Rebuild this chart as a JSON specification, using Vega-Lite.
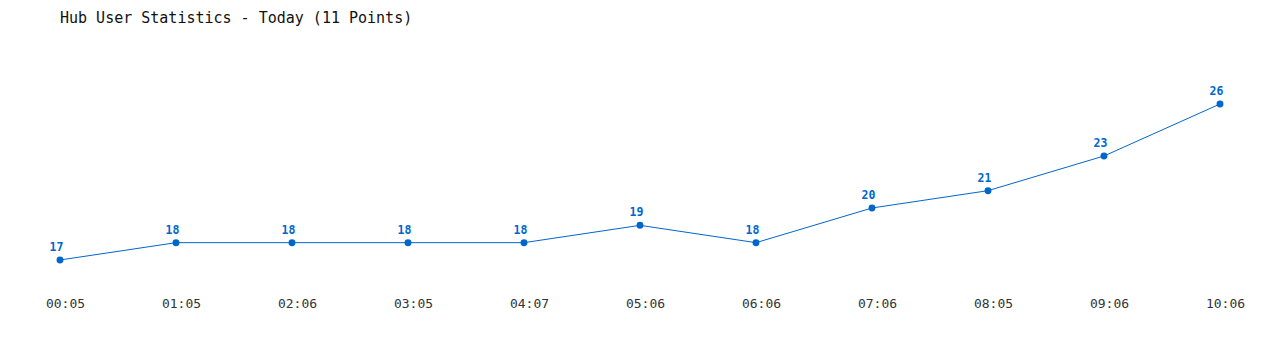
{
  "$schema": "https://vega.github.io/schema/vega-lite/v6.json",
  "autosize": "none",
  "width": 1160,
  "height": 208,
  "padding": {"left": 60, "right": 60, "top": 69.33, "bottom": 72.67},
  "background": "white",
  "title": {
    "text": "Hub User Statistics - Today (11 Points)",
    "anchor": "start",
    "frame": "group",
    "font": "DejaVu Sans Mono",
    "fontSize": 15,
    "fontWeight": "normal",
    "color": "#111111",
    "baseline": "middle",
    "offset": 36
  },
  "config": {"view": {"stroke": null}},
  "data": {
    "values": [
      {"time": "00:05", "users": 17},
      {"time": "01:05", "users": 18},
      {"time": "02:06", "users": 18},
      {"time": "03:05", "users": 18},
      {"time": "04:07", "users": 18},
      {"time": "05:06", "users": 19},
      {"time": "06:06", "users": 18},
      {"time": "07:06", "users": 20},
      {"time": "08:05", "users": 21},
      {"time": "09:06", "users": 23},
      {"time": "10:06", "users": 26}
    ]
  },
  "encoding": {
    "x": {
      "field": "time",
      "type": "ordinal",
      "sort": null,
      "scale": {"type": "point", "padding": 0},
      "axis": {
        "title": null,
        "domain": false,
        "ticks": false,
        "grid": false,
        "labelAngle": 0,
        "labelFont": "DejaVu Sans Mono",
        "labelFontSize": 13,
        "labelColor": "#333333",
        "labelPadding": 20,
        "labelOffset": 5
      }
    },
    "y": {
      "field": "users",
      "type": "quantitative",
      "scale": {"domain": [16, 28], "zero": false, "nice": false},
      "axis": null
    }
  },
  "layer": [
    {"mark": {"type": "line", "color": "#0066cc", "strokeWidth": 1}},
    {"mark": {"type": "point", "filled": true, "color": "#0066cc", "size": 48, "opacity": 1}},
    {
      "mark": {
        "type": "text",
        "color": "#0066cc",
        "font": "DejaVu Sans Mono",
        "fontSize": 11.5,
        "fontWeight": "bold",
        "dy": -12,
        "dx": -3.5
      },
      "encoding": {"text": {"field": "users", "type": "quantitative"}}
    }
  ]
}
